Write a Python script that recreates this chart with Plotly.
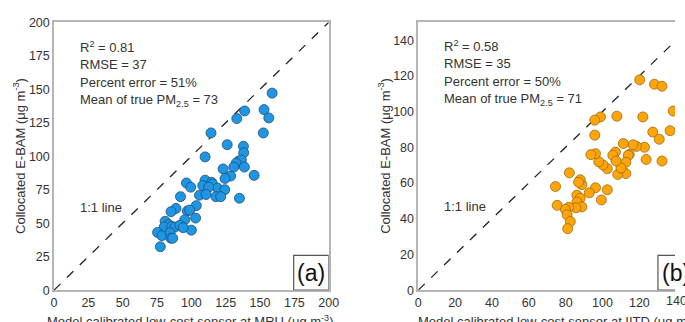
import plotly.graph_objects as go

# Panel (a): MRU
mru_x = [158.8, 152.9, 156.4, 152.4, 138.8, 133.1, 114.3, 126.1, 137.9, 138.1, 110.0, 134.5, 136.4, 132.6,
         138.6, 130.9, 123.1, 128.6, 145.7, 124.5, 110.0, 114.7, 115.4, 108.3, 119.0, 124.3, 112.6, 96.4,
         99.5, 105.9, 110.7, 117.9, 121.4, 135.0, 92.1, 103.6, 97.1, 98.8, 88.8, 85.2, 103.1, 95.2, 100.0,
         80.9, 83.3, 80.2, 85.7, 88.1, 91.6, 94.0, 75.4, 78.6, 84.5, 85.0, 86.4, 77.4]
mru_y = [147.1, 134.8, 128.6, 117.4, 133.8, 128.1, 117.4, 108.6, 107.4, 102.6, 99.5, 96.4, 97.1, 94.8,
         91.9, 91.9, 90.5, 85.2, 85.7, 83.4, 82.1, 80.5, 79.3, 78.1, 76.2, 75.0, 76.9, 80.0,
         76.9, 70.9, 71.4, 69.8, 69.8, 68.6, 69.8, 63.1, 59.1, 59.8, 61.0, 58.6, 53.8, 52.6, 44.8,
         51.4, 49.1, 47.1, 47.6, 47.1, 48.4, 46.6, 43.1, 40.7, 42.9, 38.8, 38.8, 32.4]

# Panel (b): IITD
iitd_x = [120.2, 128.2, 132.3, 138.4, 136.7, 127.3, 130.8, 132.3, 123.7, 122.8, 121.9, 118.4, 116.6, 111.3,
          114.5, 114.0, 112.7, 112.7, 108.3, 110.0, 107.8, 107.0, 105.6, 107.4, 102.6, 100.3, 98.0, 96.2,
          93.7, 95.8, 98.9, 95.8, 96.2, 92.8, 102.6, 99.4, 88.8, 87.9, 82.0, 74.5, 75.4, 87.0, 86.1, 87.9,
          86.1, 88.8, 85.6, 81.7, 79.9, 80.8, 82.5, 81.1]
iitd_y = [117.8, 115.3, 114.2, 100.3, 89.3, 88.5, 84.5, 72.3, 73.2, 80.0, 97.0, 80.5, 81.4, 82.1,
          76.0, 75.5, 71.6, 65.3, 64.8, 68.4, 97.4, 77.3, 75.5, 72.3, 68.0, 70.1, 71.9, 76.4,
          75.9, 86.8, 97.0, 95.2, 57.3, 54.5, 56.2, 50.5, 59.1, 61.8, 65.7, 58.0, 47.5, 60.4, 53.2, 51.4,
          49.3, 46.6, 46.1, 46.4, 45.2, 42.2, 38.4, 34.4]

stats_a = ["R<sup>2</sup> = 0.81", "RMSE = 37", "Percent error = 51%", "Mean of true PM<sub>2.5</sub> = 73"]
stats_b = ["R<sup>2</sup> = 0.58", "RMSE = 35", "Percent error = 50%", "Mean of true PM<sub>2.5</sub> = 71"]
ticks_a = [0, 25, 50, 75, 100, 125, 150, 175, 200]
ticks_b = [0, 20, 40, 60, 80, 100, 120, 140]

W, H = 685, 322
FONT = "Liberation Sans, Arial, sans-serif"
TXT = "#333333"
FRAME = "#b5b5b5"

fig = go.Figure()
fig.add_trace(go.Scatter(x=[0, 200], y=[0, 200], mode="lines",
                         line=dict(color="#222222", width=1.3, dash="dash"),
                         xaxis="x", yaxis="y", showlegend=False))
fig.add_trace(go.Scatter(x=mru_x, y=mru_y, mode="markers",
                         marker=dict(size=10, color="#1e96e4", line=dict(color="#1f4f7a", width=0.8)),
                         xaxis="x", yaxis="y", showlegend=False))
fig.add_trace(go.Scatter(x=[0, 150], y=[0, 150], mode="lines",
                         line=dict(color="#222222", width=1.3, dash="dash"),
                         xaxis="x2", yaxis="y2", showlegend=False))
fig.add_trace(go.Scatter(x=iitd_x, y=iitd_y, mode="markers",
                         marker=dict(size=10, color="#ffa50a", line=dict(color="#9a6a10", width=0.8)),
                         xaxis="x2", yaxis="y2", showlegend=False))

xa_l, xa_r = 52 / W, 332 / W
xb_l = 423.3 / W
yd = [26 / H, 306 / H]
xb_max = (W - 423.3) / 1.878

axcommon = dict(showgrid=False, zeroline=False, showline=True, linecolor=FRAME, linewidth=1.5,
                ticks="", tickfont=dict(family=FONT, size=12.5, color=TXT))

fig.update_layout(
    width=W, height=H, margin=dict(l=0, r=0, t=0, b=0),
    paper_bgcolor="white", plot_bgcolor="white",
    font=dict(family=FONT, color=TXT),
    xaxis=dict(domain=[xa_l, xa_r], range=[0, 200], tickvals=ticks_a, mirror=True, anchor="y", **axcommon),
    yaxis=dict(domain=yd, range=[0, 200], tickvals=ticks_a, mirror=True, anchor="x", **axcommon),
    xaxis2=dict(domain=[xb_l, 1], range=[0, xb_max], tickvals=ticks_b, mirror=True, anchor="y2", **axcommon),
    yaxis2=dict(domain=yd, range=[0, 150], tickvals=ticks_b, mirror=False, anchor="x2", **axcommon),
)

ann = []
ys = [42, 60.5, 79, 97.5]
for i, t in enumerate(stats_a):
    ann.append(dict(text=t, xref="paper", yref="paper", x=76 / W, y=1 - ys[i] / H,
                    xanchor="left", yanchor="middle", showarrow=False, font=dict(size=13, color=TXT)))
for i, t in enumerate(stats_b):
    ann.append(dict(text=t, xref="paper", yref="paper", x=447 / W, y=1 - (ys[i] - 1) / H,
                    xanchor="left", yanchor="middle", showarrow=False, font=dict(size=13, color=TXT)))
ann.append(dict(text="1:1 line", xref="paper", yref="paper", x=76 / W, y=1 - 210 / H,
                xanchor="left", yanchor="middle", showarrow=False, font=dict(size=13, color=TXT)))
ann.append(dict(text="1:1 line", xref="paper", yref="paper", x=447 / W, y=1 - 209 / H,
                xanchor="left", yanchor="middle", showarrow=False, font=dict(size=13, color=TXT)))
# axis titles
ann.append(dict(text="Collocated E-BAM (μg m<sup>-3</sup>)", xref="paper", yref="paper", x=17 / W, y=1 - 156 / H,
                textangle=-90, xanchor="center", yanchor="middle", showarrow=False, font=dict(size=13, color=TXT)))
ann.append(dict(text="Collocated E-BAM (μg m<sup>-3</sup>)", xref="paper", yref="paper", x=389 / W, y=1 - 156 / H,
                textangle=-90, xanchor="center", yanchor="middle", showarrow=False, font=dict(size=13, color=TXT)))
ann.append(dict(text="Model calibrated low-cost sensor at MRU (μg m<sup>-3</sup>)", xref="paper", yref="paper",
                x=191 / W, y=1 - 318 / H, xanchor="center", yanchor="top", showarrow=False,
                font=dict(size=13, color=TXT)))
ann.append(dict(text="Model calibrated low-cost sensor at IITD (μg m<sup>-3</sup>)", xref="paper", yref="paper",
                x=566 / W, y=1 - 318 / H, xanchor="center", yanchor="top", showarrow=False,
                font=dict(size=13, color=TXT)))
# cut-off tick label 140
ann.append(dict(text="140", xref="paper", yref="paper", x=686.3 / W, y=1 - 298 / H,
                xanchor="center", yanchor="top", showarrow=False, font=dict(size=12.5, color=TXT)))
# panel labels
ann.append(dict(text="(a)", xref="paper", yref="paper", x=314 / W, y=1 - 278 / H,
                xanchor="center", yanchor="middle", showarrow=False, font=dict(size=23, color="#111111")))
ann.append(dict(text="(b)", xref="paper", yref="paper", x=670 / W, y=1 - 278 / H,
                xanchor="left", yanchor="middle", showarrow=False, font=dict(size=23, color="#111111")))
fig.update_layout(annotations=ann)

fig.add_shape(type="rect", xref="x", yref="y", x0=174.5, x1=200, y0=0, y1=26,
              line=dict(color="#555555", width=1.2), fillcolor="rgba(0,0,0,0)")
fig.add_shape(type="rect", xref="x2", yref="y2", x0=130.1, x1=150, y0=0, y1=19.5,
              line=dict(color="#555555", width=1.2), fillcolor="rgba(0,0,0,0)")

fig.write_html("out.html")
